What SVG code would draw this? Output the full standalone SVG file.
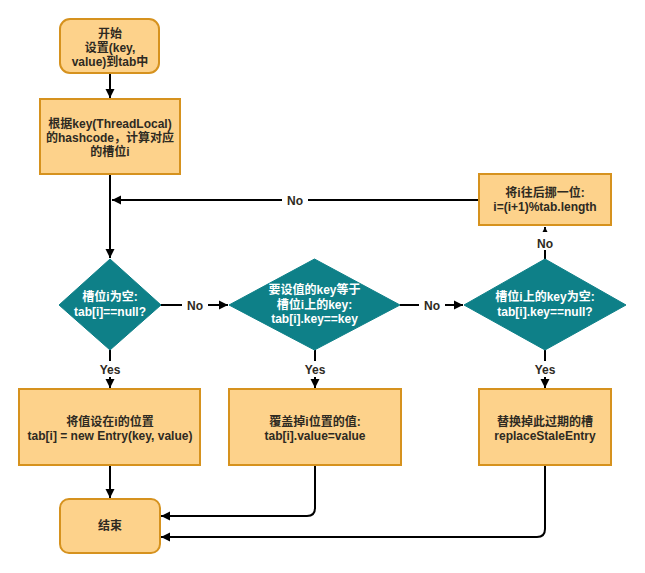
<svg xmlns="http://www.w3.org/2000/svg" width="645" height="573" viewBox="0 0 645 573">
<style>
.box{fill:#FDD28B;stroke:#D6921E;stroke-width:2}
.dia{fill:#0E8088;stroke:#0E8088;stroke-width:1}
.t{font-family:"Liberation Sans","Noto Sans CJK SC",sans-serif;font-weight:bold;font-size:12px;text-anchor:middle;fill:#2e2a22}
.tw{font-family:"Liberation Sans","Noto Sans CJK SC",sans-serif;font-weight:bold;font-size:12px;text-anchor:middle;fill:#ffffff}
.e{fill:none;stroke:#000;stroke-width:2}
.a{marker-end:url(#arr)}
.lb{fill:#fff}
</style>
<defs>
<marker id="arr" markerUnits="userSpaceOnUse" markerWidth="12" markerHeight="12" viewBox="0 0 12 12" refX="10" refY="6" orient="auto">
<path d="M1,1.5 L10,6 L1,10.5 Z" fill="#000"/>
</marker>
</defs>
<rect width="645" height="573" fill="#fff"/>
<g id="connectors">
<path class="e a" d="M110,73 V98"/>
<path class="e a" d="M110,174 V258"/>
<path class="e a" d="M479,200 H112"/>
<path class="e a" d="M161,305 H228"/>
<path class="e a" d="M400,305 H463"/>
<path class="e a" d="M545,259 V227"/>
<path class="e a" d="M110,350 V388"/>
<path class="e a" d="M315,350 V388"/>
<path class="e a" d="M545,350 V388"/>
<path class="e a" d="M110,465 V498"/>
<path class="e a" d="M315,465 V508 Q315,516 307,516 H161"/>
<path class="e a" d="M545,465 V529 Q545,537 537,537 H161"/>
<rect class="lb" x="282" y="192" width="26" height="16"/>
<text class="t" x="295" y="204.5">No</text>
<rect class="lb" x="182" y="297" width="26" height="16"/>
<text class="t" x="195" y="309.5">No</text>
<rect class="lb" x="419" y="297" width="26" height="16"/>
<text class="t" x="432" y="309.5">No</text>
<rect class="lb" x="532" y="232" width="26" height="18"/>
<text class="t" x="545" y="247.5">No</text>
<rect class="lb" x="96" y="361" width="28" height="16"/>
<text class="t" x="110" y="373.5">Yes</text>
<rect class="lb" x="301" y="361" width="28" height="16"/>
<text class="t" x="315" y="373.5">Yes</text>
<rect class="lb" x="531" y="361" width="28" height="16"/>
<text class="t" x="545" y="373.5">Yes</text>
</g>
<g id="start">
<rect class="box" x="60" y="19" width="99" height="54" rx="10"/>
<text class="t" x="110" y="38">开始</text>
<text class="t" x="110" y="52">设置(key,</text>
<text class="t" x="110" y="66">value)到tab中</text>
</g>
<g id="hash">
<rect class="box" x="40" y="99" width="140" height="75"/>
<text class="t" x="110" y="128">根据key(ThreadLocal)</text>
<text class="t" x="110" y="142">的hashcode，计算对应</text>
<text class="t" x="110" y="156">的槽位i</text>
</g>
<g id="next">
<rect class="box" x="479" y="174" width="132" height="51"/>
<text class="t" x="545" y="197">将i往后挪一位:</text>
<text class="t" x="545" y="211">i=(i+1)%tab.length</text>
</g>
<g id="cond1">
<polygon class="dia" points="110,259 161,305 110,350 59,305"/>
<text class="tw" x="110" y="301">槽位i为空:</text>
<text class="tw" x="110" y="316">tab[i]==null?</text>
</g>
<g id="cond2">
<polygon class="dia" points="314.5,259 400,305 314.5,350 229,305"/>
<text class="tw" x="314.5" y="294">要设值的key等于</text>
<text class="tw" x="314.5" y="308.5">槽位i上的key:</text>
<text class="tw" x="314.5" y="323">tab[i].key==key</text>
</g>
<g id="cond3">
<polygon class="dia" points="545,259 626,305 545,350 464,305"/>
<text class="tw" x="545" y="301">槽位i上的key为空:</text>
<text class="tw" x="545" y="316">tab[i].key==null?</text>
</g>
<g id="setnew">
<rect class="box" x="19" y="389" width="181" height="76"/>
<text class="t" x="110" y="426">将值设在i的位置</text>
<text class="t" x="110" y="440">tab[i] = new Entry(key, value)</text>
</g>
<g id="overwrite">
<rect class="box" x="229" y="389" width="172" height="76"/>
<text class="t" x="315" y="426">覆盖掉i位置的值:</text>
<text class="t" x="315" y="440">tab[i].value=value</text>
</g>
<g id="replace">
<rect class="box" x="479" y="389" width="132" height="76"/>
<text class="t" x="545" y="426">替换掉此过期的槽</text>
<text class="t" x="545" y="440">replaceStaleEntry</text>
</g>
<g id="end">
<rect class="box" x="60" y="499" width="100" height="54" rx="9"/>
<text class="t" x="110" y="530">结束</text>
</g>
</svg>
